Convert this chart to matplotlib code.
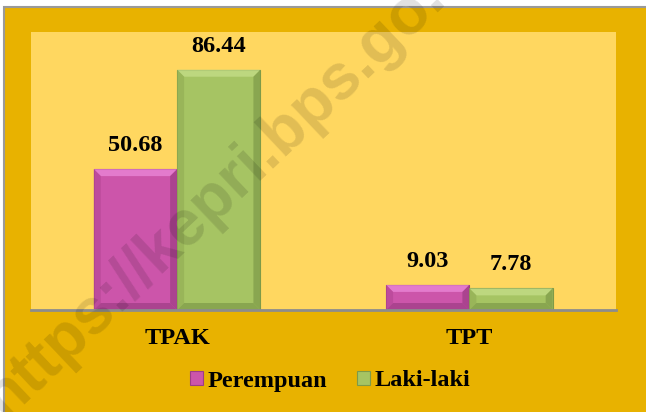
import matplotlib.pyplot as plt
from matplotlib.patches import Polygon, Rectangle
import numpy as np

categories = ['TPAK', 'TPT']
series_names = ['Perempuan', 'Laki-laki']
perempuan = [50.68, 9.03]
laki_laki = [86.44, 7.78]

GOLD = '#E8B200'
PLOT_BG = '#FFD760'
COLORS = ['#CC55AA', '#A6C463']
LIGHT = ['#EE8CDC', '#C8E08C']
DARK = ['#9E3C84', '#7E9A48']
SIDE = ['#B84898', '#94B056']
FONT = 'Liberation Serif'


def bevel(ax, rect, i):
    # bevel depth in pixels turned into data units
    x0, y0 = rect.get_x(), rect.get_y()
    x1, y1 = x0 + rect.get_width(), y0 + rect.get_height()
    inv = ax.transData.inverted()
    p0 = inv.transform(ax.transData.transform((x0, y0)) + np.array([7, 7]))
    dx, dy = p0[0] - x0, p0[1] - y0
    dy = min(dy, (y1 - y0) / 2.5)
    polys = [
        ([(x0, y1), (x1, y1), (x1 - dx, y1 - dy), (x0 + dx, y1 - dy)], LIGHT[i]),
        ([(x0, y0), (x0, y1), (x0 + dx, y1 - dy), (x0 + dx, y0 + dy)], SIDE[i]),
        ([(x1, y0), (x1, y1), (x1 - dx, y1 - dy), (x1 - dx, y0 + dy)], DARK[i]),
        ([(x0, y0), (x1, y0), (x1 - dx, y0 + dy), (x0 + dx, y0 + dy)], DARK[i]),
    ]
    for pts, c in polys:
        ax.add_patch(Polygon(pts, closed=True, facecolor=c, edgecolor='none',
                             alpha=0.7, zorder=3))


fig = plt.figure(figsize=(6.46, 4.12), dpi=100, facecolor='white')
fig.patches.append(Rectangle((4 / 646, -0.01), 1.0, 1 - 6.5 / 412 + 0.01,
                             transform=fig.transFigure, facecolor=GOLD,
                             edgecolor='#9A9A9A', linewidth=1.5, zorder=-5))

ax = fig.add_axes([31 / 646, 102 / 412, 584.5 / 646, 278 / 412])
ax.set_zorder(1)
ax.set_facecolor(PLOT_BG)

x = np.arange(len(categories))
width = 0.285
ax.set_xlim(-0.5, len(categories) - 0.5)
ax.set_ylim(0, 100)

for i, vals in enumerate([perempuan, laki_laki]):
    offs = (i - 0.5) * width
    bars = ax.bar(x + offs, vals, width, color=COLORS[i], edgecolor=DARK[i],
                  linewidth=0.8, label=series_names[i], zorder=2)
    for rect, v in zip(bars, vals):
        bevel(ax, rect, i)
        ax.annotate(f'{v:.2f}', (rect.get_x() + rect.get_width() / 2, v),
                    xytext=(0, 17), textcoords='offset points',
                    ha='center', va='center', fontsize=17.5,
                    fontweight='bold', family=FONT)

for s in ['top', 'left', 'right']:
    ax.spines[s].set_visible(False)
ax.spines['bottom'].set_color('#8C8C8C')
ax.spines['bottom'].set_linewidth(2)
ax.spines['bottom'].set_zorder(4)
ax.set_yticks([])
ax.set_xticks(x)
ax.set_xticklabels(categories, fontsize=17.5, fontweight='bold', family=FONT)
ax.tick_params(axis='x', length=0, pad=13)

ax.legend(loc='center', bbox_to_anchor=(330 / 646, 1 - 381 / 412),
          bbox_transform=fig.transFigure, ncol=2, frameon=False,
          prop={'family': FONT, 'weight': 'bold', 'size': 17.5},
          handlelength=0.55, handleheight=0.55, handletextpad=0.2,
          columnspacing=1.2)

# watermark
fig.text(247 / 646, 1 - 190 / 412, 'https://kepri.bps.go.id', rotation=43.5,
         rotation_mode='anchor', ha='center', va='baseline', fontsize=46,
         fontweight='bold', family='Liberation Sans', color='black',
         alpha=0.12, zorder=10)

fig.savefig('out.png', dpi=100, facecolor=fig.get_facecolor())
